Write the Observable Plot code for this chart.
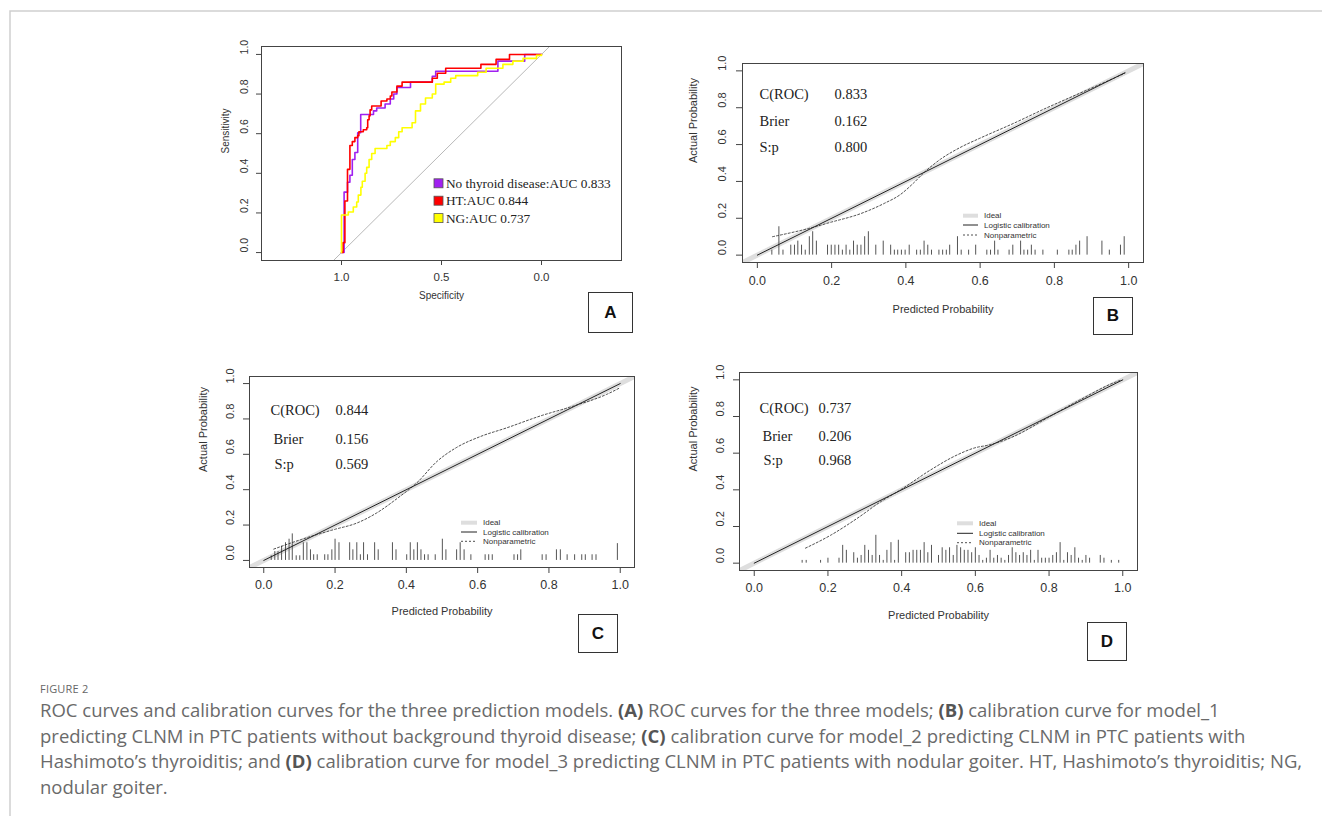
<!DOCTYPE html>
<html><head><meta charset="utf-8">
<script src="https://cdn.jsdelivr.net/npm/d3@7"></script>
<script src="https://cdn.jsdelivr.net/npm/@observablehq/plot@0.6"></script>
<style>
body{margin:0;background:#fff;}
#page{position:relative;width:1322px;height:816px;overflow:hidden;font-family:"Liberation Sans",Arial,sans-serif;background:#fff;}
.panel{position:absolute;}
.panel svg{overflow:visible;}
.tag{position:absolute;border:1.5px solid #333;box-sizing:border-box;font:bold 17px "Liberation Sans",Arial,sans-serif;display:flex;align-items:center;justify-content:center;color:#111;background:#fff;}
#caption{position:absolute;left:40px;top:680px;color:#666;font-family:"Open Sans",sans-serif;}
#caption .fig{font-size:11px;letter-spacing:0.2px;line-height:18px;color:#666;}
#caption .txt{font-size:18.5px;line-height:25.7px;color:#6a6a6a;white-space:nowrap;margin-top:-1px;}
#caption b{color:#555;font-weight:700;}
#overlay{position:absolute;left:0;top:0;}
</style></head>
<body><div id="page"></div>
<script>
// ---------- DATA ----------
const rocXTicks = [1.0, 0.5, 0.0];
const probTicks = [0, 0.2, 0.4, 0.6, 0.8, 1.0];
const rocLabels = ["No thyroid disease:AUC 0.833", "HT:AUC 0.844", "NG:AUC 0.737"];
const rocColors = ["#A020F0", "#FF0000", "#FFFF00"];
// [specificity, sensitivity]
const rocNoThyroid = [[1,0],[0.987,0.305],[0.970,0.355],[0.958,0.39],[0.946,0.47],[0.933,0.505],[0.919,0.605],[0.904,0.697],[0.840,0.715],[0.824,0.73],[0.782,0.75],[0.756,0.775],[0.739,0.80],[0.723,0.833],[0.655,0.86],[0.546,0.89],[0.529,0.915],[0.218,0.966],[0.084,1.0],[0,1]];
const rocHT = [[1,0],[0.992,0.05],[0.983,0.26],[0.970,0.42],[0.958,0.54],[0.946,0.56],[0.933,0.58],[0.919,0.59],[0.913,0.61],[0.891,0.62],[0.874,0.63],[0.869,0.67],[0.862,0.69],[0.857,0.72],[0.849,0.74],[0.802,0.765],[0.773,0.775],[0.756,0.79],[0.748,0.81],[0.723,0.84],[0.697,0.86],[0.546,0.88],[0.521,0.905],[0.479,0.93],[0.303,0.95],[0.227,0.975],[0.160,1.0],[0,1]];
const rocNG = [[1,0],[1.0,0.19],[0.966,0.205],[0.941,0.23],[0.924,0.255],[0.916,0.29],[0.903,0.33],[0.896,0.36],[0.882,0.40],[0.874,0.43],[0.862,0.47],[0.849,0.50],[0.832,0.525],[0.773,0.54],[0.756,0.56],[0.731,0.58],[0.714,0.61],[0.697,0.63],[0.647,0.655],[0.630,0.715],[0.605,0.75],[0.580,0.78],[0.546,0.80],[0.529,0.85],[0.487,0.86],[0.454,0.88],[0.429,0.893],[0.319,0.91],[0.277,0.93],[0.193,0.95],[0.143,0.966],[0.092,0.98],[0.025,0.995],[0,1]];
const chanceLine = [[1.05,-0.05],[-0.05,1.05]];

const idealLine = [[-0.05,-0.05],[1.05,1.05]];
const calLegend = ["Ideal", "Logistic calibration", "Nonparametric"];
const statNames = ["C(ROC)", "Brier", "S:p"];

// Panel B: model_1 (no thyroid disease)
const statsB = ["0.833", "0.162", "0.800"];
const logisticB = [[0,0],[0.99,0.99]];
const nonparB = [[0.041,0.10],[0.152,0.152],[0.197,0.178],[0.278,0.225],[0.341,0.28],[0.386,0.33],[0.42,0.39],[0.45,0.45],[0.493,0.52],[0.547,0.585],[0.60,0.635],[0.69,0.715],[0.78,0.80],[0.87,0.88],[0.96,0.96],[0.99,0.987]];
const spikeBp = [0.039,0.058,0.069,0.090,0.100,0.109,0.119,0.129,0.140,0.149,0.159,0.189,0.199,0.209,0.219,0.229,0.239,0.249,0.259,0.269,0.279,0.289,0.299,0.319,0.339,0.359,0.369,0.378,0.388,0.398,0.409,0.429,0.439,0.449,0.459,0.469,0.489,0.499,0.509,0.518,0.539,0.549,0.569,0.588,0.618,0.628,0.639,0.648,0.678,0.688,0.709,0.718,0.728,0.738,0.748,0.769,0.808,0.839,0.848,0.858,0.868,0.888,0.928,0.948,0.978,0.988];
const spikeBh = [0.027,0.154,0.027,0.054,0.054,0.076,0.054,0.027,0.100,0.127,0.076,0.054,0.054,0.054,0.054,0.027,0.054,0.027,0.076,0.054,0.054,0.100,0.127,0.054,0.076,0.054,0.027,0.027,0.027,0.027,0.054,0.027,0.027,0.076,0.054,0.027,0.027,0.027,0.027,0.054,0.100,0.027,0.027,0.054,0.027,0.027,0.076,0.027,0.027,0.054,0.076,0.027,0.027,0.054,0.027,0.027,0.027,0.027,0.027,0.054,0.076,0.100,0.076,0.027,0.054,0.100];

// Panel C: model_2 (Hashimoto's thyroiditis)
const statsC = ["0.844", "0.156", "0.569"];
const logisticC = [[0,0],[1.0,1.0]];
const nonparC = [[0.028,0.064],[0.103,0.117],[0.196,0.174],[0.262,0.212],[0.318,0.27],[0.374,0.35],[0.43,0.44],[0.486,0.56],[0.542,0.64],[0.607,0.70],[0.682,0.75],[0.776,0.817],[0.869,0.873],[0.963,0.94],[1.0,0.977]];
const spikeCp = [0.021,0.031,0.040,0.050,0.061,0.071,0.080,0.091,0.101,0.111,0.121,0.131,0.140,0.150,0.171,0.180,0.191,0.200,0.211,0.241,0.250,0.261,0.271,0.280,0.291,0.311,0.321,0.361,0.371,0.401,0.411,0.421,0.431,0.441,0.451,0.461,0.481,0.501,0.511,0.541,0.551,0.562,0.581,0.621,0.631,0.641,0.702,0.712,0.721,0.781,0.792,0.821,0.832,0.851,0.872,0.892,0.902,0.921,0.932,0.992];
const spikeCh = [0.026,0.05,0.05,0.08,0.10,0.12,0.15,0.026,0.026,0.10,0.10,0.06,0.032,0.032,0.032,0.032,0.06,0.12,0.10,0.10,0.06,0.10,0.032,0.10,0.032,0.10,0.06,0.10,0.06,0.032,0.10,0.06,0.10,0.06,0.032,0.032,0.032,0.12,0.06,0.06,0.10,0.06,0.032,0.032,0.032,0.032,0.032,0.032,0.06,0.032,0.032,0.06,0.06,0.032,0.032,0.032,0.032,0.032,0.032,0.095];

// Panel D: model_3 (nodular goiter)
const statsD = ["0.737", "0.206", "0.968"];
const logisticD = [[0,0],[1.0,1.0]];
const nonparD = [[0.139,0.082],[0.207,0.152],[0.279,0.244],[0.343,0.335],[0.397,0.40],[0.479,0.509],[0.542,0.582],[0.597,0.628],[0.642,0.647],[0.705,0.692],[0.796,0.793],[0.887,0.894],[0.977,0.985],[0.995,0.998]];
const spikeDp = [0.130,0.141,0.180,0.200,0.230,0.240,0.250,0.270,0.280,0.290,0.300,0.310,0.320,0.330,0.340,0.350,0.360,0.371,0.381,0.391,0.411,0.421,0.431,0.441,0.451,0.461,0.471,0.481,0.500,0.510,0.520,0.530,0.540,0.550,0.560,0.570,0.580,0.590,0.600,0.610,0.620,0.630,0.640,0.650,0.660,0.670,0.680,0.690,0.700,0.710,0.720,0.730,0.740,0.750,0.760,0.770,0.780,0.790,0.800,0.810,0.820,0.830,0.840,0.850,0.860,0.870,0.880,0.890,0.900,0.910,0.939,0.949,0.969,0.989];
const spikeDh = [0.015,0.015,0.015,0.027,0.027,0.097,0.07,0.057,0.027,0.042,0.097,0.07,0.042,0.152,0.042,0.015,0.07,0.112,0.015,0.125,0.057,0.057,0.07,0.07,0.07,0.112,0.057,0.097,0.042,0.084,0.07,0.084,0.042,0.097,0.084,0.07,0.07,0.057,0.084,0.042,0.015,0.027,0.07,0.027,0.042,0.027,0.015,0.042,0.084,0.057,0.042,0.057,0.042,0.07,0.015,0.07,0.027,0.027,0.027,0.042,0.057,0.112,0.015,0.057,0.042,0.084,0.027,0.015,0.042,0.027,0.042,0.027,0.015,0.015];

// ---------- LAYOUT ----------
const page = document.getElementById("page");
const FONT = "Liberation Sans, Arial, sans-serif";
const SERIF = "Liberation Serif, Times New Roman, serif";

function place(node, left, top) {
  const d = document.createElement("div");
  d.className = "panel";
  d.style.left = left + "px"; d.style.top = top + "px";
  d.appendChild(node); page.appendChild(d);
}
function tag(letter, l, t, w, h) {
  const d = document.createElement("div");
  d.className = "tag"; d.textContent = letter;
  Object.assign(d.style, {left: l+"px", top: t+"px", width: w+"px", height: h+"px"});
  page.appendChild(d);
}
const fmt1 = d => d.toFixed(1);

// Panel A: ROC
{
  const L = {left: 200, top: 30, w: 440, h: 290, mt: 16, mb: 60, ml: 61, mr: 19};
  const rocData = [rocNoThyroid, rocHT, rocNG];
  const chart = Plot.plot({
    width: L.w, height: L.h, marginTop: L.mt, marginBottom: L.mb, marginLeft: L.ml, marginRight: L.mr,
    x: {domain: [1.4, -0.4]}, y: {domain: [-0.04, 1.04]},
    style: {fontFamily: FONT, background: "transparent", color: "#333"},
    marks: [
      Plot.line(chanceLine, {stroke: "#b0b0b0", strokeWidth: 0.9, clip: true}),
      ...rocData.map((s, i) => Plot.line(s, {curve: "step-after", stroke: rocColors[i], strokeWidth: 1.6})),
      Plot.frame({stroke: "#444", strokeWidth: 1}),
      Plot.axisX({ticks: rocXTicks, tickSize: 5, tickFormat: () => "", label: null, stroke: "#444"}),
      Plot.axisY({ticks: probTicks, tickSize: 5, tickFormat: () => "", label: null, stroke: "#444"}),
      Plot.text(rocXTicks, {x: d => d, frameAnchor: "bottom", dy: 20, text: fmt1, fontSize: 11.5, fill: "#333"}),
      Plot.text(probTicks, {y: d => d, frameAnchor: "left", dx: -17, rotate: -90, text: fmt1, fontSize: 10.5, fill: "#333"}),
      Plot.text(["Specificity"], {frameAnchor: "bottom", dy: 38, fontSize: 10, fill: "#333"}),
      Plot.text(["Sensitivity"], {frameAnchor: "left", dx: -36, rotate: -90, fontSize: 10, fill: "#333"})
    ]
  });
  place(chart, L.left, L.top);
  tag("A", 588, 292, 45, 41);
}

// Calibration panels
function calPanel(P) {
  const spikes = P.sp.map((p, i) => ({p, h: P.sh[i]}));
  const chart = Plot.plot({
    width: P.w, height: P.h, marginTop: P.mt, marginBottom: P.mb, marginLeft: P.ml, marginRight: P.mr,
    x: {domain: [-0.04, 1.04]}, y: {domain: [-0.04, 1.04]},
    style: {fontFamily: FONT, background: "transparent", color: "#333"},
    marks: [
      Plot.line(idealLine, {stroke: "#dedede", strokeWidth: 5, clip: true}),
      Plot.ruleX(spikes, {x: "p", y1: 0, y2: "h", stroke: "#555", strokeWidth: 1}),
      Plot.line(P.logistic, {stroke: "#222", strokeWidth: 1}),
      Plot.line(P.nonpar, {stroke: "#222", strokeWidth: 0.8, strokeDasharray: "2,2", curve: "monotone-x"}),
      Plot.frame({stroke: "#444", strokeWidth: 1}),
      Plot.axisX({ticks: probTicks, tickSize: 6, tickFormat: () => "", label: null, stroke: "#444"}),
      Plot.axisY({ticks: probTicks, tickSize: 6, tickFormat: () => "", label: null, stroke: "#444"}),
      Plot.text(probTicks, {x: d => d, frameAnchor: "bottom", dy: P.xtDy, text: fmt1, fontSize: 12.5, fill: "#333", style: "letter-spacing:1.2px"}),
      Plot.text(probTicks, {y: d => d, frameAnchor: "left", dx: P.ytDx, rotate: -90, text: fmt1, fontSize: 11, fill: "#333"}),
      Plot.text(["Predicted Probability"], {frameAnchor: "bottom", dy: P.xlDy, fontSize: 11, fill: "#333"}),
      Plot.text(["Actual Probability"], {frameAnchor: "left", dx: P.ylDx, rotate: -90, fontSize: 11, fill: "#333"}),
      ...statNames.map((s, i) => Plot.text([s], {frameAnchor: "top-left", dx: P.sDx[i], dy: P.sDy[i], textAnchor: "start", fontFamily: SERIF, fontSize: 14.5, fill: "#222"})),
      ...P.stats.map((s, i) => Plot.text([s], {frameAnchor: "top-left", dx: P.vDx, dy: P.sDy[i], textAnchor: "start", fontFamily: SERIF, fontSize: 14.5, fill: "#222"}))
    ]
  });
  place(chart, P.left, P.top);
  tag(P.letter, ...P.tagBox);
}

calPanel({letter: "B", left: 680, top: 50, w: 480, h: 300, mt: 13, mb: 88, ml: 62, mr: 17,
  sp: spikeBp, sh: spikeBh, logistic: logisticB, nonpar: nonparB, stats: statsB,
  xtDy: 22, ytDx: -20, xlDy: 50, ylDx: -49, sDx: [17, 17, 17], vDx: 92, sDy: [25, 52, 78],
  tagBox: [1093, 297, 40, 38]});
calPanel({letter: "C", left: 180, top: 360, w: 470, h: 300, mt: 16, mb: 93, ml: 69, mr: 16,
  sp: spikeCp, sh: spikeCh, logistic: logisticC, nonpar: nonparC, stats: statsC,
  xtDy: 21, ytDx: -19, xlDy: 47, ylDx: -46, sDx: [21, 24, 25], vDx: 86, sDy: [28, 57, 82],
  tagBox: [578, 614, 40, 39]});
calPanel({letter: "D", left: 680, top: 355, w: 480, h: 305, mt: 17, mb: 90, ml: 59, mr: 23,
  sp: spikeDp, sh: spikeDh, logistic: logisticD, nonpar: nonparD, stats: statsD,
  xtDy: 21, ytDx: -19, xlDy: 48, ylDx: -46, sDx: [20, 23, 24], vDx: 79, sDy: [30, 58, 82],
  tagBox: [1087, 622, 40, 39]});

// ---------- overlay: figure frame + legends ----------
const ov = d3.select(page).append("svg").attr("id", "overlay").attr("width", 1322).attr("height", 816)
  .style("pointer-events", "none");
ov.append("path").attr("d", "M10,816V11H1322").attr("fill", "none").attr("stroke", "#cfcfcf").attr("stroke-width", 1.5);

// ROC legend
const rl = ov.append("g");
rocLabels.forEach((lab, i) => {
  const y = 183.3 + i * 17.4;
  rl.append("rect").attr("x", 434).attr("y", y - 4.5).attr("width", 9).attr("height", 9)
    .attr("fill", rocColors[i]).attr("stroke", "#555").attr("stroke-width", 0.8);
  rl.append("text").attr("x", 446).attr("y", y).attr("dominant-baseline", "central")
    .attr("font-family", SERIF).attr("font-size", 13.3).attr("fill", "#222").text(lab);
});

// calibration legends
const legStyles = [{stroke: "#dedede", w: 4, dash: null}, {stroke: "#222", w: 1, dash: null}, {stroke: "#222", w: 0.8, dash: "2,2"}];
const legPos = [{x1: 963, x2: 978, tx: 984, ys: [215.7, 225, 235]},
                {x1: 461, x2: 477, tx: 483, ys: [522.7, 532, 541.3]},
                {x1: 957, x2: 973, tx: 979, ys: [523.3, 533.3, 542.7]}];
legPos.forEach(p => {
  calLegend.forEach((lab, i) => {
    const s = legStyles[i];
    const ln = ov.append("line").attr("x1", p.x1).attr("x2", p.x2).attr("y1", p.ys[i]).attr("y2", p.ys[i])
      .attr("stroke", s.stroke).attr("stroke-width", s.w);
    if (s.dash) ln.attr("stroke-dasharray", s.dash);
    ov.append("text").attr("x", p.tx).attr("y", p.ys[i]).attr("dominant-baseline", "central")
      .attr("font-family", FONT).attr("font-size", 8).attr("fill", "#333").text(lab);
  });
});

// ---------- caption ----------
const cap = document.createElement("div");
cap.id = "caption";
cap.innerHTML = '<div class="fig">FIGURE 2</div><div class="txt">' +
  'ROC curves and calibration curves for the three prediction models. <b>(A)</b> ROC curves for the three models; <b>(B)</b> calibration curve for model_1<br>' +
  'predicting CLNM in PTC patients without background thyroid disease; <b>(C)</b> calibration curve for model_2 predicting CLNM in PTC patients with<br>' +
  'Hashimoto’s thyroiditis; and <b>(D)</b> calibration curve for model_3 predicting CLNM in PTC patients with nodular goiter. HT, Hashimoto’s thyroiditis; NG,<br>' +
  'nodular goiter.</div>';
page.appendChild(cap);
</script>
</body></html>
